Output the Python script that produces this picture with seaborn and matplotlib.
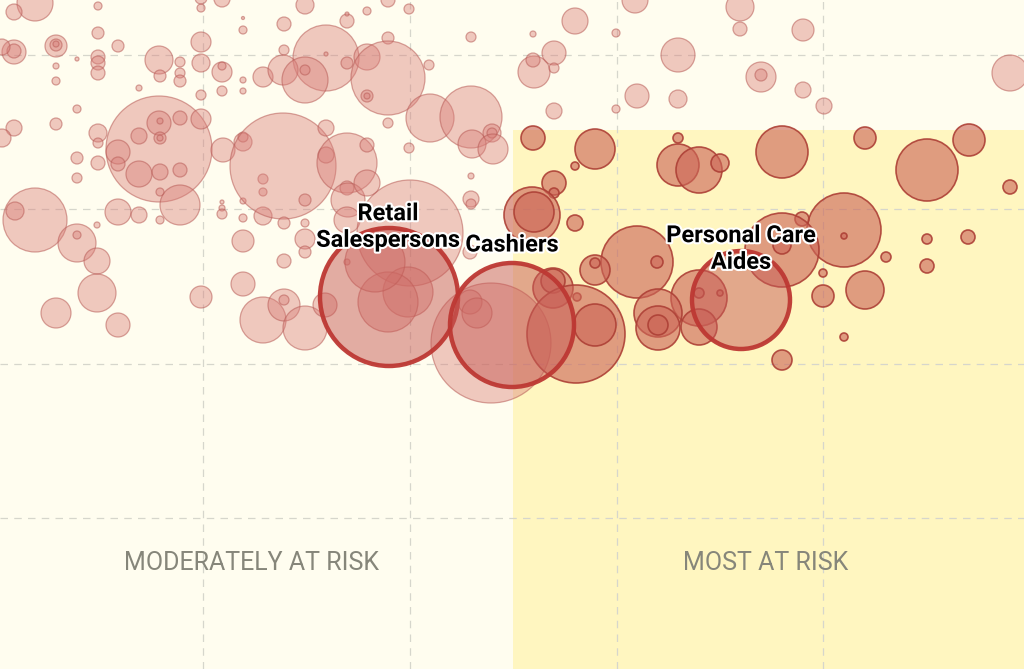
import numpy as np
import pandas as pd
import matplotlib
matplotlib.use("Agg")
import matplotlib.pyplot as plt
import matplotlib.patheffects as pe
from matplotlib.patches import Rectangle
import seaborn as sns

# ---------------- data (x position, y position, bubble radius) ----------------
light_x = [35, 14, 98, 201, 201, 222, 243, 243, 98, 201, 118, 14, 14, 2, 56, 56, 56,
           77, 98, 98, 98, 56, 56, 159, 160, 180, 180, 180, 201, 222, 222, 243, 243, 222, 263,
           139, 201, 77, 14, 2, 56, 159, 159, 160, 180, 201, 139, 160, 160, 98, 98, 118, 118,
           139, 160, 180, 77, 77, 98, 223, 243, 243, 160, 180,
           35, 15, 77, 77, 97, 97, 56, 118, 118, 139, 160, 97, 201, 222, 222, 222, 243, 243,
           243, 263, 263, 263, 283, 284, 305, 305, 305, 284, 243, 263, 284, 284, 305, 325, 305,
           326, 326, 347, 367, 347, 348, 367, 347, 347,
           305, 347, 347, 367, 388, 409, 284, 284, 326, 326, 283, 305, 305, 347, 367, 388, 388,
           367, 367, 429, 471, 430, 471, 472, 492, 492, 493, 388, 409, 471, 471, 471,
           410, 470, 408, 388, 375, 491, 470, 477,
           534, 635, 740, 575, 533, 616, 740, 803, 533, 554, 554, 678, 761, 761, 1010, 803, 637,
           678, 554, 616, 824]
light_y = [3, 12, 6, 8, -2, -1, 18, 30, 33, 42, 46, 52, 51, 47, 46, 45, 44,
           59, 57, 63, 73, 66, 81, 60, 76, 62, 73, 81, 63, 72, 66, 80, 91, 91, 77,
           88, 95, 109, 128, 138, 124, 149, 123, 121, 118, 119, 136, 138, 138, 133, 143, 152, 164,
           174, 172, 170, 158, 178, 163, 150, 142, 137, 192, 205,
           220, 211, 243, 235, 261, 293, 313, 325, 212, 215, 220, 225, 297, 202, 208, 214, 218, 241,
           201, 216, 179, 192, 166, 223, 223, 239, 252, 261, 284, 320, 305, 300, 328, 305, 200,
           128, 155, 163, 145, 188, 200, 183, 220, 262,
           5, 21, 14, 11, 0, 9, 24, 50, 58, 54, 70, 80, 70, 63, 57, 38, 78,
           96, 96, 65, 37, 118, 117, 144, 133, 133, 149, 123, 148, 176, 199, 204,
           233, 252, 292, 302, 262, 343, 302, 313,
           72, 0, 7, 21, 34, 33, 29, 30, 60, 53, 68, 55, 77, 75, 73, 90, 96,
           99, 111, 109, 106]
light_r = [18, 8, 4, 4, 6, 8, 1.5, 4, 6, 10, 6, 12, 7, 8, 11, 6, 3,
           2, 7, 7, 7, 3, 4, 14, 6, 5, 5, 6, 9, 10, 4, 3, 3, 5, 10,
           3, 5, 4, 8, 9, 6, 53, 12, 3, 7, 10, 8, 6, 3, 9, 5, 12, 7,
           13, 8, 7, 6, 5, 7, 12, 9, 5, 4, 20,
           32, 9, 19, 4, 13, 19, 15, 12, 13, 8, 4, 3, 11, 2, 3, 5, 4, 11,
           3, 9, 5, 4, 53, 6, 4, 10, 6, 7, 12, 23, 16, 5, 22, 12, 6,
           8, 8, 30, 7, 7, 17, 13, 13, 3,
           9, 7, 2, 4, 7, 5, 7, 5, 33, 2, 15, 23, 5, 6, 13, 6, 37,
           6, 3, 5, 5, 24, 31, 14, 9, 5, 15, 5, 5, 3, 8, 5,
           53, 7, 25, 30, 30, 60, 12, 15,
           16, 13, 14, 13, 3, 4, 7, 11, 7, 12, 5, 17, 15, 6, 18, 8, 12,
           9, 8, 4, 8]

dark_x = [533, 595, 575, 678, 678, 699, 720, 782, 865, 927, 969, 1010, 554, 554, 532, 534,
          575, 637, 657, 595, 595, 553, 553, 577, 576, 595, 844, 844, 802, 782, 782, 927, 968,
          886, 927, 823, 823, 865, 844, 782, 699, 699, 720, 658, 658, 658, 699]
dark_y = [138, 149, 166, 138, 165, 170, 163, 152, 138, 170, 140, 187, 183, 193, 215, 212,
          223, 262, 262, 270, 263, 288, 281, 297, 334, 325, 230, 236, 219, 250, 245, 239, 237,
          257, 266, 273, 296, 290, 337, 360, 298, 293, 293, 313, 328, 325, 327]
dark_r = [12, 20, 4, 5, 21, 23, 9, 26, 11, 31, 16, 7, 12, 5, 28, 20,
          8, 36, 6, 15, 5, 20, 12, 4, 49, 21, 37, 3, 7, 37, 9, 5, 7,
          5, 7, 4, 11, 19, 4, 10, 28, 5, 3, 24, 22, 10, 18]

label_names = ["Retail\nSalespersons", "Cashiers", "Personal Care\nAides"]
label_x = [389, 512, 741]
label_y = [297, 325, 300]
label_r = [69, 62, 49]

zone_labels = ["MODERATELY AT RISK", "MOST AT RISK"]
RISK_X = 513      # x threshold of the "most at risk" zone
RISK_Y = 130      # y threshold of the "most at risk" zone
X_MAX, Y_MAX = 1024, 669
grid_x = [203, 410, 617, 823]
grid_y = [55, 209, 364, 518]

# ---------------- figure ----------------
sns.set_theme(style="white")
plt.rcParams["font.family"] = ["Roboto", "DejaVu Sans"]

fig = plt.figure(figsize=(10.24, 6.69), dpi=100)
ax = fig.add_axes([0, 0, 1, 1])
ax.set_facecolor("#fffdef")
ax.set_xlim(0, X_MAX)
ax.set_ylim(Y_MAX, 0)

ax.add_patch(Rectangle((RISK_X, RISK_Y), X_MAX - RISK_X, Y_MAX - RISK_Y,
                       facecolor="#fff6c0", edgecolor="none", zorder=0.2))

ax.set_xticks(grid_x)
ax.set_yticks(grid_y)
ax.tick_params(length=0, labelbottom=False, labelleft=False)
ax.grid(True, linestyle=(0, (6, 5)), color="#d6d6cc", linewidth=0.9)
ax.set_axisbelow(True)
for s in ax.spines.values():
    s.set_visible(False)

PX2PT = 72.0 / 100.0

def sizes(r):
    return (2 * np.asarray(r, dtype=float) * PX2PT) ** 2

light = pd.DataFrame({"x": light_x, "y": light_y, "r": light_r})
dark = pd.DataFrame({"x": dark_x, "y": dark_y, "r": dark_r})
hl = pd.DataFrame({"x": label_x, "y": label_y, "r": label_r, "name": label_names})

sns.scatterplot(data=light, x="x", y="y", s=sizes(light["r"]), ax=ax,
                color=(0.85, 0.50, 0.48, 0.42), edgecolor=(0.72, 0.36, 0.34, 0.55),
                linewidth=0.9, legend=False, zorder=2)
sns.scatterplot(data=dark, x="x", y="y", s=sizes(dark["r"]), ax=ax,
                color=(0.80, 0.40, 0.34, 0.62), edgecolor=(0.68, 0.25, 0.21, 0.9),
                linewidth=1.2, legend=False, zorder=3)
sns.scatterplot(data=hl, x="x", y="y", s=sizes(hl["r"]), ax=ax,
                color=(0.78, 0.36, 0.34, 0.5), edgecolor=(0.74, 0.22, 0.20, 0.95),
                linewidth=3.2, legend=False, zorder=4)

ax.set_xlabel("")
ax.set_ylabel("")

stroke = [pe.withStroke(linewidth=3, foreground="white")]
lab_kw = dict(ha="center", va="center", fontsize=17, fontweight="bold", color="black",
              linespacing=1.2, path_effects=stroke, zorder=6)
ax.text(388, 227, label_names[0], **lab_kw)
ax.text(512, 245, label_names[1], **lab_kw)
ax.text(741, 249, label_names[2], **lab_kw)

ax.text(252, 563, zone_labels[0], ha="center", va="center", fontsize=18,
        color="#86867a", zorder=1)
ax.text(766, 563, zone_labels[1], ha="center", va="center", fontsize=18,
        color="#86867a", zorder=1)

fig.savefig("out.png", dpi=100)
